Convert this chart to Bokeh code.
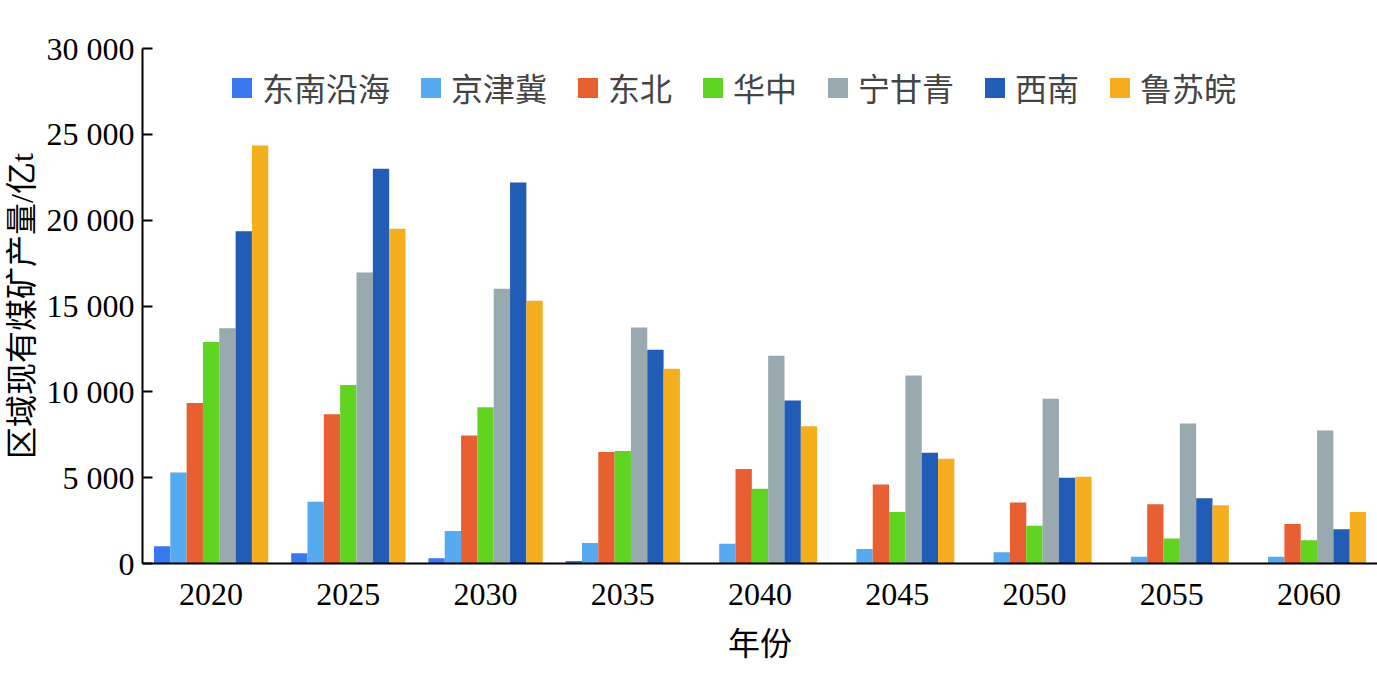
from bokeh.plotting import figure
from bokeh.models import FactorRange, Range1d, FixedTicker, CustomJSTickFormatter, Legend, LegendItem, ColumnDataSource
from bokeh.transform import dodge
from bokeh.embed import file_html
from bokeh.resources import INLINE

years = ["2020", "2025", "2030", "2035", "2040", "2045", "2050", "2055", "2060"]
regions = ["东南沿海", "京津冀", "东北", "华中", "宁甘青", "西南", "鲁苏皖"]
colors = ["#3A78F2", "#56ABF0", "#E86032", "#60D420", "#98A9AF", "#215DB6", "#F5AE1E"]

southeast_coast = [1000, 600, 300, 150, 0, 0, 0, 0, 0]
jingjinji = [5300, 3600, 1900, 1200, 1150, 850, 650, 400, 400]
northeast = [9350, 8700, 7450, 6500, 5500, 4600, 3550, 3450, 2300]
central_china = [12900, 10400, 9100, 6550, 4350, 3000, 2200, 1450, 1350]
ningganqing = [13700, 16950, 16000, 13750, 12100, 10950, 9600, 8150, 7750]
southwest = [19350, 23000, 22200, 12450, 9500, 6450, 5000, 3800, 2000]
lusuwan = [24350, 19500, 15300, 11350, 8000, 6100, 5050, 3400, 3000]

y_ticks = [0, 5000, 10000, 15000, 20000, 25000, 30000]

series = [southeast_coast, jingjinji, northeast, central_china, ningganqing, southwest, lusuwan]
keys = ["s%d" % i for i in range(len(series))]
data = {"year": years}
for k, s in zip(keys, series):
    data[k] = s
source = ColumnDataSource(data)

NUM_FONT = "Liberation Serif"
CJK_FONT = "Noto Sans CJK SC"
MIX_FONT = "Liberation Serif, Noto Sans CJK SC"

p = figure(x_range=FactorRange(*years), y_range=Range1d(0, 30000),
           width=1377, height=682, output_backend="svg", toolbar_location=None,
           min_border_left=140, min_border_right=0, min_border_top=48, min_border_bottom=119)

bw = 0.119
items = []
for i, (k, name, c) in enumerate(zip(keys, regions, colors)):
    r = p.vbar(x=dodge("year", (i - 3) * bw, range=p.x_range), top=k, width=bw,
               source=source, fill_color=c, line_color=None)
    items.append(LegendItem(label=name, renderers=[r]))

p.outline_line_color = None
p.xgrid.grid_line_color = None
p.ygrid.grid_line_color = None
p.background_fill_color = "white"
p.border_fill_color = "white"

p.yaxis.ticker = FixedTicker(ticks=y_ticks)
p.yaxis.formatter = CustomJSTickFormatter(code="return tick.toString().replace(/\\B(?=(\\d{3})+(?!\\d))/g, ' ');")
p.yaxis.minor_tick_line_color = None
p.yaxis.major_tick_in = 10
p.yaxis.major_tick_out = 0
p.yaxis.major_tick_line_width = 2
p.yaxis.axis_line_width = 2
p.yaxis.major_label_text_font = NUM_FONT
p.yaxis.major_label_text_font_size = "32px"
p.yaxis.major_label_text_color = "black"
p.yaxis.major_label_standoff = 8
p.yaxis.axis_label = "区域现有煤矿产量/亿t"
p.yaxis.axis_label_text_font = MIX_FONT
p.yaxis.axis_label_text_font_size = "32px"
p.yaxis.axis_label_text_font_style = "normal"
p.yaxis.axis_label_standoff = 4
p.yaxis.axis_label_text_color = "black"

p.xaxis.major_tick_line_color = None
p.xaxis.minor_tick_line_color = None
p.xaxis.axis_line_width = 2
p.xaxis.major_label_text_font = NUM_FONT
p.xaxis.major_label_text_font_size = "32px"
p.xaxis.major_label_text_color = "black"
p.xaxis.major_label_standoff = 14
p.xaxis.axis_label = "年份"
p.xaxis.axis_label_text_font = CJK_FONT
p.xaxis.axis_label_text_font_size = "32px"
p.xaxis.axis_label_text_font_style = "normal"
p.xaxis.axis_label_standoff = 10
p.xaxis.axis_label_text_color = "black"

legend = Legend(items=items, orientation="horizontal", location=(87, 453),
                glyph_width=25, glyph_height=25, label_text_font=CJK_FONT,
                label_text_font_size="32px", spacing=28, padding=0, margin=0,
                label_standoff=8, border_line_color=None, background_fill_alpha=0)
p.add_layout(legend, "center")

open("out.html", "w").write(file_html(p, INLINE))
